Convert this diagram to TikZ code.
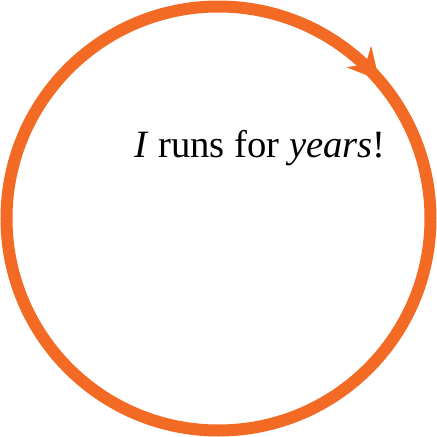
\documentclass[tikz,border=0pt]{standalone}
\usepackage{fontspec}
\setmainfont{Liberation Serif}
\usepackage{tikz}
\usetikzlibrary{arrows.meta,positioning,decorations.markings}
\definecolor{cO}{HTML}{F26A24}
\tikzset{
  ring/.style={draw=cO,line width=0.24cm},
  ringarrow/.style={postaction={decorate},
     decoration={markings,mark=at position 0.137 with
       {\arrow[cO]{Stealth[length=0.62cm,width=0.64cm,inset=0.2cm]}}}},
  say/.style={font=\fontsize{22}{26}\selectfont,inner sep=0pt,anchor=base},
}

\begin{document}
\begin{tikzpicture}
  \useasboundingbox (-4.37,-4.37) rectangle (4.37,4.37);
  % the loop, clockwise from the top
  \draw[ring,ringarrow] (0,4.24) arc[start angle=90,end angle=-270,radius=4.24];
  \node[say] (runs) at (0.83,1.23) {\textit{I} runs for \textit{years}!};
\end{tikzpicture}
\end{document}
